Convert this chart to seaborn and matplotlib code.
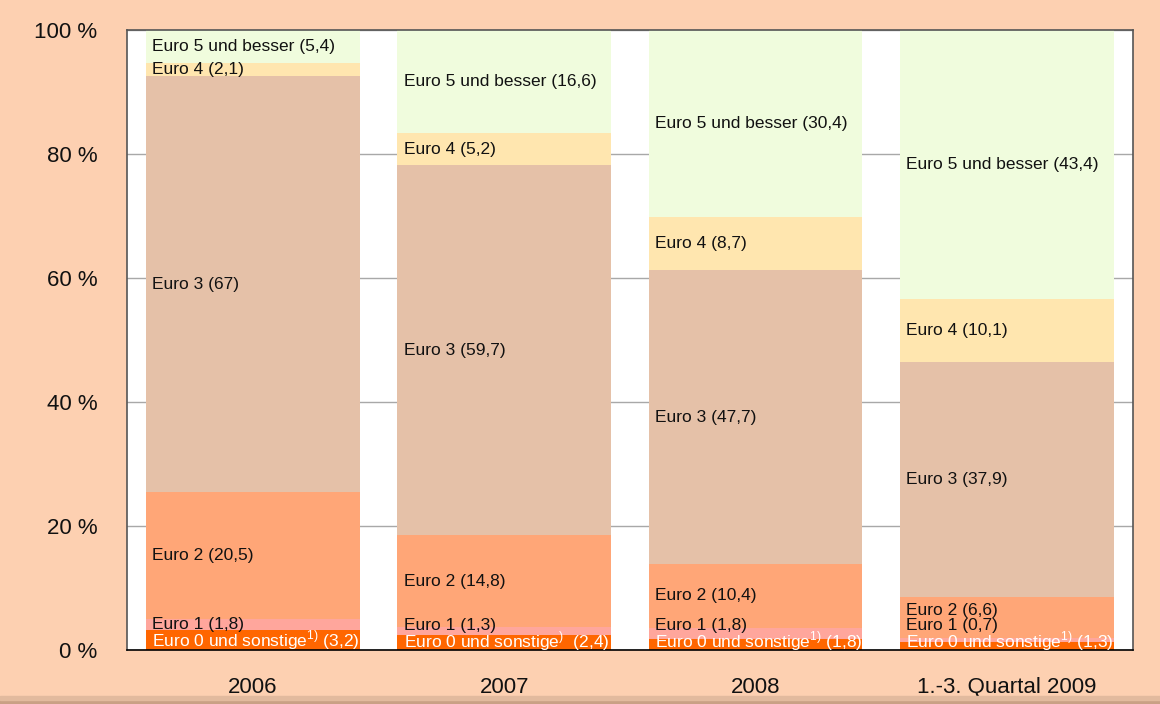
import numpy as np
import pandas as pd
import matplotlib.pyplot as plt
import seaborn as sns

# ---------------------------
# Data (shares in %)
# ---------------------------
periods = ["2006", "2007", "2008", "1.-3. Quartal 2009"]

euro0 = [3.2, 2.4, 1.8, 1.3]
euro1 = [1.8, 1.3, 1.8, 0.7]
euro2 = [20.5, 14.8, 10.4, 6.6]
euro3 = [67.0, 59.7, 47.7, 37.9]
euro4 = [2.1, 5.2, 8.7, 10.1]
euro5 = [5.4, 16.6, 30.4, 43.4]

classes = ["Euro 0", "Euro 1", "Euro 2", "Euro 3", "Euro 4", "Euro 5"]
names = ["Euro 0 und sonstige", "Euro 1", "Euro 2", "Euro 3", "Euro 4",
         "Euro 5 und besser"]
footnote = ["$^{\\mathrm{1)}}$", "$^{\\mathrm{)}}$ ", "$^{\\mathrm{1)}}$",
            "$^{\\mathrm{1)}}$"]
colors = ["#FF6600", "#FFA69C", "#FFA677", "#E5C1A8", "#FFE6AF", "#F0FCDD"]

y_ticks = [0, 20, 40, 60, 80, 100]
y_tick_labels = ["0 %", "20 %", "40 %", "60 %", "80 %", "100 %"]

df = pd.DataFrame(
    [euro0, euro1, euro2, euro3, euro4, euro5],
    index=classes,
    columns=periods,
)
# columns that do not add up to exactly 100 are scaled to 100 %
cum = (df / df.sum() * 100).cumsum()

# ---------------------------
# Style
# ---------------------------
sns.set_style("white")
plt.rcParams["font.family"] = ["Liberation Sans", "DejaVu Sans"]
plt.rcParams["mathtext.fontset"] = "custom"
plt.rcParams["mathtext.rm"] = "Liberation Sans"

bg = "#FDD0B1"
fig = plt.figure(figsize=(11.6, 7.04), dpi=100, facecolor=bg)
ax = fig.add_axes([0.1095, 0.0767, 0.867, 0.8807])
ax.set_facecolor("white")

# bottom shadow of the panel
fig.patches.append(plt.Rectangle((0, 0), 1, 0.006, transform=fig.transFigure,
                                 color="#C9A085", zorder=0))
fig.patches.append(plt.Rectangle((0, 0.006), 1, 0.006, transform=fig.transFigure,
                                 color="#E2BA9E", zorder=0))

# ---------------------------
# Stacked bars (drawn as overlapping cumulative bars)
# ---------------------------
bar_width = 0.85
for k in range(len(classes) - 1, -1, -1):
    sns.barplot(
        x=periods,
        y=cum.iloc[k].values,
        color=colors[k],
        saturation=1,
        width=bar_width,
        linewidth=0,
        ax=ax,
        zorder=2,
    )

# ---------------------------
# Segment labels
# ---------------------------
for i, p in enumerate(periods):
    prev = None
    lows = np.concatenate([[0], cum[p].values[:-1]])
    highs = cum[p].values
    for k in range(len(classes)):
        pos = max((lows[k] + highs[k]) / 2, 1.4)
        if prev is not None:
            pos = max(pos, prev + 2.5)
        prev = pos
        val = f"{df.loc[classes[k], p]:g}".replace(".", ",")
        if k == 0:
            txt = f"{names[k]}{footnote[i]} ({val})"
            col = "white"
        else:
            txt = f"{names[k]} ({val})"
            col = "#111111"
        ax.text(i - bar_width / 2 + 0.025, pos, txt, ha="left", va="center",
                fontsize=12.5, color=col, zorder=3)

# ---------------------------
# Axes
# ---------------------------
ax.set_xlim(-0.5, 3.5)
ax.set_ylim(0, 100)
ax.set_yticks(y_ticks)
ax.set_yticklabels(y_tick_labels)
ax.yaxis.grid(True, color="#A8A8A8", linewidth=1)
ax.set_axisbelow(True)
ax.tick_params(axis="both", which="both", direction="out", length=11.5,
               width=1.2, color="black", labelsize=16, labelcolor="#111111")
ax.tick_params(axis="y", pad=10)
ax.tick_params(axis="x", pad=8)
ax.set_xlabel("")
ax.set_ylabel("")

for side in ["top", "right", "left"]:
    ax.spines[side].set_color("#555555")
    ax.spines[side].set_linewidth(1.2)
ax.spines["bottom"].set_color("black")
ax.spines["bottom"].set_linewidth(1.2)

plt.savefig("out.png", dpi=100, facecolor=bg)
